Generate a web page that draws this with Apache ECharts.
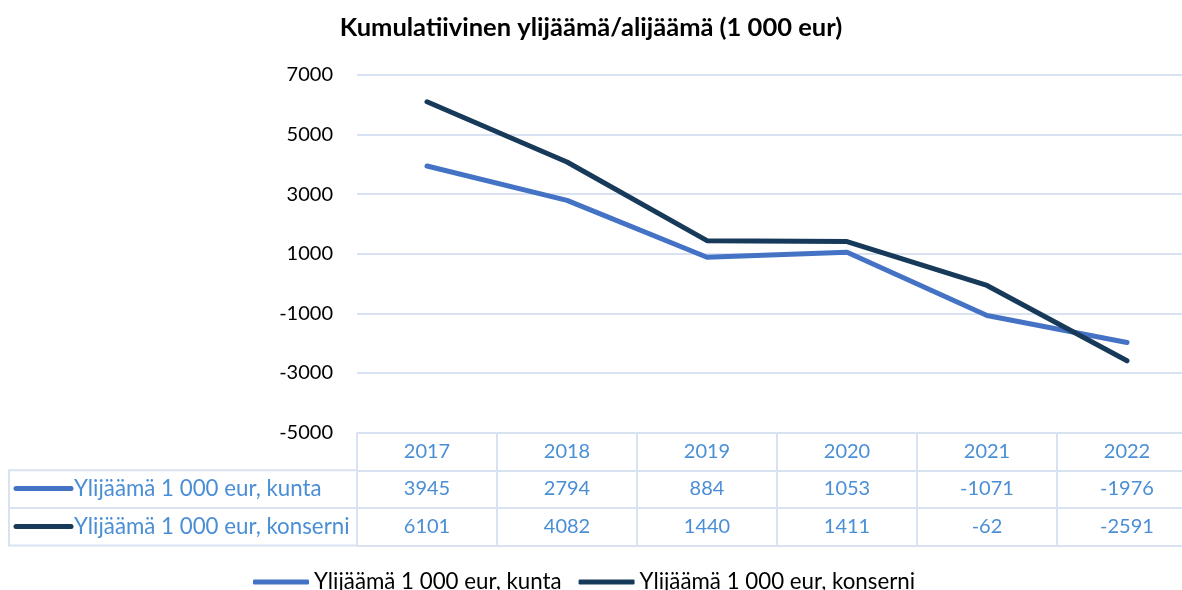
<!DOCTYPE html>
<html>
<head>
<meta charset="utf-8">
<script src="https://cdn.jsdelivr.net/npm/echarts@6/dist/echarts.min.js"></script>
<style>
  html, body { margin: 0; padding: 0; background: #fff; }
  #chart { width: 1182px; height: 590px; }
</style>
</head>
<body>
<div id="chart"></div>
<script>
const years = ["2017", "2018", "2019", "2020", "2021", "2022"];
const kunta = [3945, 2794, 884, 1053, -1071, -1976];
const konserni = [6101, 4082, 1440, 1411, -62, -2591];
const nameKunta = "Ylijäämä 1 000 eur, kunta";
const nameKonserni = "Ylijäämä 1 000 eur, konserni";

const font = "Lato, 'Open Sans', sans-serif";
const gridColor = "#d9e2f3";
const tableText = "#4a8ed6";
const colKunta = "#4472c4";
const colKonserni = "#183a5a";

const chart = echarts.init(document.getElementById("chart"));

// taulukon tekstirivit akseleina kaavion alla
function labelAxis(data, offset) {
  return {
    type: "category",
    gridIndex: 0,
    position: "bottom",
    offset: offset,
    data: data,
    boundaryGap: true,
    axisLine: { show: false },
    axisTick: { show: false },
    axisLabel: {
      interval: 0,
      margin: 18.5,
      verticalAlign: "middle",
      color: tableText,
      fontFamily: font,
      fontSize: 20
    }
  };
}

const option = {
  animation: false,
  title: {
    text: "Kumulatiivinen ylijäämä/alijäämä (1 000 eur)",
    left: "center",
    top: 10,
    textStyle: { fontFamily: font, fontSize: 25.5, fontWeight: "bold", color: "#000" }
  },
  legend: {
    left: 248,
    top: 566,
    itemGap: 17,
    itemWidth: 56,
    itemHeight: 5,
    icon: "roundRect",
    data: [nameKunta, nameKonserni],
    textStyle: { fontFamily: font, fontSize: 22.3, color: "#000" }
  },
  grid: [
    // kaavio jatkuu kuvan oikean reunan yli kuten alkuperäisessä
    { left: 357, width: 840, top: 75, height: 357.6, outerBoundsMode: "none", containLabel: false },
    // taulukon ruudukko
    { left: 357, width: 840, top: 432.6, height: 113, outerBoundsMode: "none", containLabel: false }
  ],
  xAxis: [
    labelAxis(years, 0),
    labelAxis(kunta.map(String), 37.6),
    labelAxis(konserni.map(String), 75.2),
    {
      type: "category",
      gridIndex: 1,
      data: years,
      boundaryGap: true,
      axisLine: { show: false },
      axisTick: { show: false },
      axisLabel: { show: false },
      splitLine: { show: true, interval: 0, lineStyle: { color: gridColor, width: 2 } }
    }
  ],
  yAxis: [
    {
      type: "value",
      gridIndex: 0,
      min: -5000,
      max: 7000,
      interval: 2000,
      axisLine: { show: false },
      axisTick: { show: false },
      axisLabel: {
        margin: 24,
        color: "#000",
        fontFamily: font,
        fontSize: 20,
        formatter: (v) => String(v)
      },
      splitLine: { lineStyle: { color: gridColor, width: 2 } }
    },
    {
      type: "value",
      gridIndex: 1,
      min: 0,
      max: 3,
      interval: 1,
      axisLine: { show: false },
      axisTick: { show: false },
      axisLabel: { show: false },
      splitLine: { show: true, lineStyle: { color: gridColor, width: 2 } }
    }
  ],
  graphic: [
    {
      type: "rect",
      shape: { x: 9, y: 470.3, width: 348, height: 75.3 },
      style: { fill: "none", stroke: gridColor, lineWidth: 2 }
    },
    {
      type: "line",
      shape: { x1: 9, y1: 508, x2: 357, y2: 508 },
      style: { stroke: gridColor, lineWidth: 2 }
    },
    {
      type: "line",
      shape: { x1: 16, y1: 488.5, x2: 71, y2: 488.5 },
      style: { stroke: colKunta, lineWidth: 5, lineCap: "round" }
    },
    {
      type: "line",
      shape: { x1: 16, y1: 526.5, x2: 71, y2: 526.5 },
      style: { stroke: colKonserni, lineWidth: 5, lineCap: "round" }
    },
    {
      type: "text",
      x: 74, y: 488.5,
      style: { text: nameKunta, fill: tableText, font: "22.3px " + font, verticalAlign: "middle" }
    },
    {
      type: "text",
      x: 74, y: 526.5,
      style: { text: nameKonserni, fill: tableText, font: "22.3px " + font, verticalAlign: "middle" }
    }
  ],
  series: [
    {
      name: nameKunta,
      type: "line",
      symbol: "none",
      data: kunta,
      itemStyle: { color: colKunta },
      lineStyle: { color: colKunta, width: 5, cap: "round", join: "round" }
    },
    {
      name: nameKonserni,
      type: "line",
      symbol: "none",
      data: konserni,
      itemStyle: { color: colKonserni },
      lineStyle: { color: colKonserni, width: 5, cap: "round", join: "round" }
    }
  ]
};

chart.setOption(option);
</script>
</body>
</html>
